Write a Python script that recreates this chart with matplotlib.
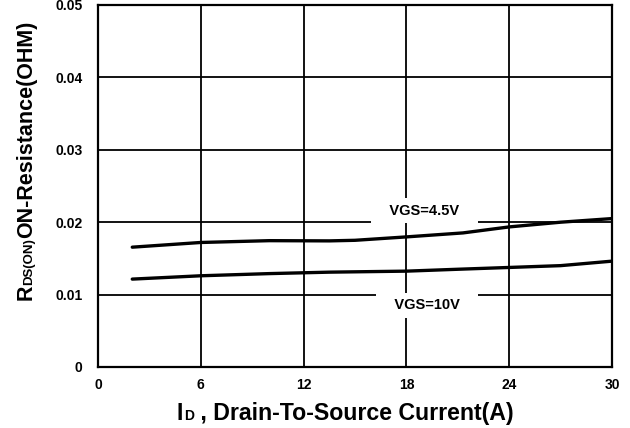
import matplotlib
matplotlib.use('Agg')
from matplotlib import pyplot as plt

plt.rcParams['font.family'] = ['Liberation Sans', 'DejaVu Sans']
plt.rcParams['font.weight'] = 'bold'

# Ток стока, А
id_45 = [2, 6, 10, 13.5, 15, 18, 21.3, 24, 27, 30]
# Сопротивление при VGS=4.5V, Ом
rds_45 = [0.01655, 0.0172, 0.01745, 0.01742, 0.0175, 0.01797, 0.01852, 0.01935, 0.0200, 0.0205]

id_10 = [2, 6, 10, 13.5, 18, 21, 24, 27, 30]
# Сопротивление при VGS=10V, Ом
rds_10 = [0.01214, 0.0126, 0.0129, 0.0131, 0.01324, 0.0135, 0.01375, 0.0140, 0.01462]

xticks = [0, 6, 12, 18, 24, 30]
yticks = [0, 0.01, 0.02, 0.03, 0.04, 0.05]
yticklabels = ['0', '0.01', '0.02', '0.03', '0.04', '0.05']

fig = plt.figure(figsize=(6.3, 4.28), dpi=100)
ax = fig.add_axes([98 / 630, 1 - 367 / 428, 514 / 630, 362 / 428])

ax.plot(id_45, rds_45, color='black', lw=2.4, solid_capstyle='round', zorder=3)
ax.plot(id_10, rds_10, color='black', lw=2.4, solid_capstyle='round', zorder=3)

ax.set_xlim(0, 30)
ax.set_ylim(0, 0.05)
ax.set_xticks(xticks)
ax.set_yticks(yticks)
ax.set_yticklabels(yticklabels)
ax.tick_params(axis='x', length=0, labelsize=10, pad=8)
ax.tick_params(axis='y', length=0, labelsize=10, pad=11)
for lab in ax.get_xticklabels() + ax.get_yticklabels():
    lab.set_fontweight('bold')

ax.grid(True, color='black', lw=1.3)
ax.set_axisbelow(True)
for s in ax.spines.values():
    s.set_linewidth(1.6)

# Подписи кривых на белой подложке
box = dict(boxstyle='square,pad=0.4', fc='white', ec='none')
ax.text(19.06, 0.0216, '   VGS=4.5V   ', fontsize=10.5, fontweight='bold',
        ha='center', va='center', bbox=box, zorder=4)
ax.text(19.2, 0.0085, '   VGS=10V   ', fontsize=10.5, fontweight='bold',
        ha='center', va='center', bbox=box, zorder=4)

# Подпись оси x: I с маленькой D
t1 = fig.text(177 / 630, 1 - 420 / 428, 'I', fontsize=16.7, fontweight='bold',
              ha='left', va='baseline')
t2 = plt.annotate('D', xy=(1, 0), xycoords=t1, xytext=(0.5, 1.5),
                  textcoords='offset points', fontsize=10, fontweight='bold',
                  ha='left', va='bottom', annotation_clip=False)
plt.annotate(' , Drain-To-Source Current(A)', xy=(1, 0), xycoords=t2,
             xytext=(0, -1.5), textcoords='offset points', fontsize=16.7,
             fontweight='bold', ha='left', va='bottom', annotation_clip=False)

# Подпись оси y: R с маленькой DS(ON)
r1 = fig.text(37 / 630, 1 - 300 / 428, 'R', fontsize=15.5, fontweight='bold',
              rotation=90, ha='right', va='bottom')
r2 = plt.annotate('DS(ON)', xy=(1, 1), xycoords=r1, xytext=(-1.4, 0),
                  textcoords='offset points', fontsize=9.5, fontweight='bold',
                  rotation=90, ha='right', va='bottom', annotation_clip=False)
plt.annotate('ON-Resistance(OHM)', xy=(1, 1), xycoords=r2, xytext=(1.4, 0),
             textcoords='offset points', fontsize=15.5, fontweight='bold',
             rotation=90, ha='right', va='bottom', annotation_clip=False)

plt.savefig('out.png', dpi=100)
